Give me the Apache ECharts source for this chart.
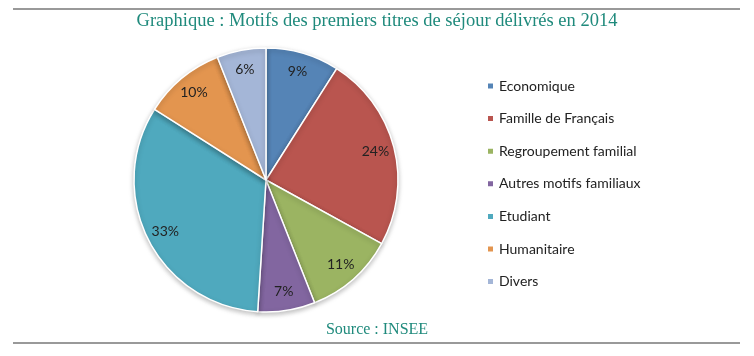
<!DOCTYPE html>
<html><head><meta charset="utf-8">
<script src="https://cdn.jsdelivr.net/npm/echarts@6/dist/echarts.min.js"></script>
<style>html,body{margin:0;padding:0;background:#fff}#c{width:754px;height:356px}</style>
</head><body><div id="c"></div>
<script>
const categories = ['Economique','Famille de Français','Regroupement familial','Autres motifs familiaux','Etudiant','Humanitaire','Divers'];
const values = [9,24,11,7,33,10,6];
const colors = ['#5584B6','#B9554F','#9BB462','#8266A0','#4FA9BE','#E3954F','#A4B6D7'];
const titleText = 'Graphique : Motifs des premiers titres de séjour délivrés en 2014';
const sourceText = 'Source : INSEE';

const data = categories.map((c,i)=>({name:c,value:values[i],itemStyle:{color:colors[i]}}));
const chart = echarts.init(document.getElementById('c'));
chart.setOption({
  animation:false,
  title:[
    {text:titleText,left:'center',top:7,textStyle:{fontFamily:'Liberation Serif',fontWeight:'normal',fontSize:18.5,color:'#1F8A7C'}},
    {text:sourceText,left:'center',top:317,textStyle:{fontFamily:'Liberation Serif',fontWeight:'normal',fontSize:16,color:'#1F8A7C'}}
  ],
  legend:{orient:'vertical',left:481,top:73,itemWidth:7,itemHeight:7,itemGap:16.6,icon:'rect',
    textStyle:{fontFamily:'Lato',fontSize:14,color:'#222',lineHeight:16},data:categories},
  graphic:[
    {type:'line',shape:{x1:13,y1:9,x2:740,y2:9},style:{stroke:'#999',lineWidth:2}},
    {type:'line',shape:{x1:13,y1:343,x2:740,y2:343},style:{stroke:'#999',lineWidth:2}}
  ],
  series:[
    {type:'pie',center:[266,180],radius:[0,132],startAngle:90,clockwise:true,
     itemStyle:{borderColor:'#fff',borderWidth:1.5,shadowBlur:5,shadowColor:'rgba(0,0,0,0.25)',shadowOffsetY:2},
     label:{show:false},labelLine:{show:false},emphasis:{disabled:true},data:data},
    {type:'pie',center:[266,180],radius:[0,220],startAngle:90,clockwise:true,silent:true,
     itemStyle:{color:'rgba(0,0,0,0)',borderWidth:0},
     label:{show:true,position:'inside',formatter:'{c}%',fontFamily:'Lato',fontSize:14,color:'#222'},
     labelLine:{show:false},emphasis:{disabled:true},legendHoverLink:false,
     data:categories.map((c,i)=>({name:c,value:values[i]}))}
  ]
});
</script></body></html>
